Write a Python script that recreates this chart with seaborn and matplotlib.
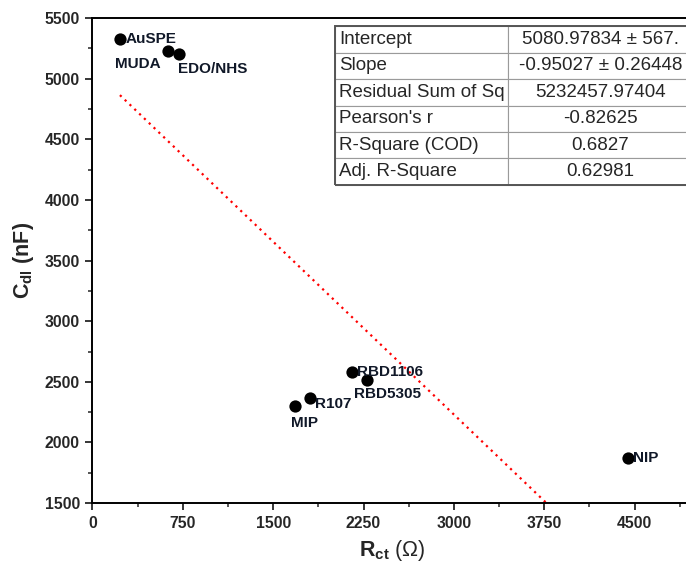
import numpy as np
import pandas as pd
import matplotlib
matplotlib.use("Agg")
import matplotlib.pyplot as plt
import seaborn as sns
from matplotlib.ticker import MultipleLocator
from matplotlib.patches import Rectangle

# ---- data ----
labels = ["AuSPE", "MUDA", "EDO/NHS", "RBD1106", "RBD5305", "R107", "MIP", "NIP"]
rct = [228, 627, 720, 2151, 2276, 1805, 1680, 4441]
cdl = [5327, 5228, 5203, 2580, 2514, 2366, 2300, 1871]

intercept = 5080.97834
slope = -0.95027

stat_names = ["Intercept", "Slope", "Residual Sum of Sq", "Pearson's r",
              "R-Square (COD)", "Adj. R-Square"]
stat_values = ["5080.97834 ± 567.", "-0.95027 ± 0.26448", "5232457.97404",
               "-0.82625", "0.6827", "0.62981"]

x_ticks = [0, 750, 1500, 2250, 3000, 3750, 4500]
y_ticks = [1500, 2000, 2500, 3000, 3500, 4000, 4500, 5000, 5500]

df = pd.DataFrame({"Rct": rct, "Cdl": cdl, "label": labels})

sns.set_style("ticks")
plt.rcParams["font.family"] = ["Liberation Sans", "DejaVu Sans"]
plt.rcParams["mathtext.fontset"] = "custom"
plt.rcParams["mathtext.rm"] = "Liberation Sans"
plt.rcParams["mathtext.bf"] = "Liberation Sans:bold"
plt.rcParams["mathtext.it"] = "Liberation Sans:italic"

fig = plt.figure(figsize=(6.86, 5.64), dpi=100)
ax = fig.add_axes([0.1348, 0.108, 0.8746, 0.860])

# fit line
xl = np.linspace(min(rct), max(rct), 200)
ax.plot(xl, intercept + slope * xl, color="red", linestyle=(0, (1, 2)), linewidth=1.6, zorder=2)

sns.scatterplot(data=df, x="Rct", y="Cdl", ax=ax, color="black", s=78,
                edgecolor="black", linewidth=0, zorder=3, legend=False)

ax.set_xlim(0, 4980)
ax.set_ylim(1500, 5500)
ax.set_xticks(x_ticks)
ax.set_yticks(y_ticks)
ax.xaxis.set_minor_locator(MultipleLocator(375))
ax.yaxis.set_minor_locator(MultipleLocator(250))
ax.tick_params(axis="both", which="major", direction="out", length=5, width=1.3, labelsize=11.3, pad=4)
ax.tick_params(axis="both", which="minor", direction="out", length=3, width=1.1)
for lab in ax.get_xticklabels() + ax.get_yticklabels():
    lab.set_fontweight("bold")
for s in ["left", "bottom", "top"]:
    ax.spines[s].set_linewidth(1.4)
    ax.spines[s].set_color("black")
ax.spines["right"].set_visible(False)

ax.set_xlabel(r"$\mathbf{R_{ct}}$ ($\Omega$)", fontsize=15.5, labelpad=5)
ax.set_ylabel(r"$\mathbf{C_{dl}}$ (nF)", fontsize=15.5, fontweight="bold", labelpad=6)

# point labels (offsets in points)
offsets = {
    "AuSPE": (4, 0),
    "MUDA": (-38, -9),
    "EDO/NHS": (-1, -11),
    "RBD1106": (4, 0),
    "RBD5305": (-9, -10),
    "R107": (4, -4),
    "MIP": (-3, -12),
    "NIP": (4, 0),
}
lc = "#101828"
for _, row in df.iterrows():
    dx, dy = offsets[row["label"]]
    ax.annotate(row["label"], (row["Rct"], row["Cdl"]), xytext=(dx, dy),
                textcoords="offset points", ha="left", va="center", fontsize=11,
                fontweight="bold", color=lc, zorder=4)

# stats table
tbl = ax.table(cellText=[[n, v] for n, v in zip(stat_names, stat_values)],
               colWidths=[0.288, 0.307], bbox=[0.405, 0.656, 0.595, 0.327],
               zorder=5)
tbl.auto_set_font_size(False)
tbl.set_fontsize(13.5)
for (r, c), cell in tbl.get_celld().items():
    cell.set_edgecolor("#9a9a9a")
    cell.set_linewidth(0.8)
    cell.set_facecolor("white")
    if c == 0:
        cell._loc = "left"
        cell.PAD = 0.02
        cell.get_text().set_ha("left")
    else:
        cell.get_text().set_ha("center")
ax.add_patch(Rectangle((0.405, 0.656), 0.60, 0.327, transform=ax.transAxes,
                       fill=False, edgecolor="#555555", linewidth=1.4, zorder=6, clip_on=False))

fig.savefig("out.png", dpi=100)
